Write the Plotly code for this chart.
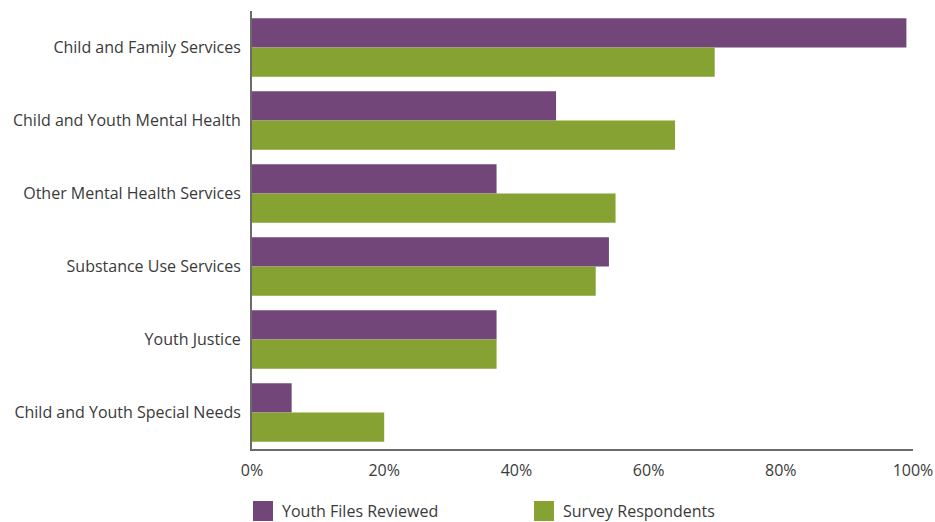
import plotly.graph_objects as go

categories = ["Child and Family Services", "Child and Youth Mental Health", "Other Mental Health Services",
              "Substance Use Services", "Youth Justice", "Child and Youth Special Needs"]
youth_files = [99, 46, 37, 54, 37, 6]
survey = [70, 64, 55, 52, 37, 20]
series_names = ["Youth Files Reviewed", "Survey Respondents"]
colors = ["#73467a", "#86a232"]
x_ticks = [0, 20, 40, 60, 80, 100]
x_ticklabels = ["0%", "20%", "40%", "60%", "80%", "100%"]

FONT = "Open Sans"
PW = 661.0
PH = 438.0

fig = go.Figure()
fig.add_trace(go.Bar(y=categories, x=youth_files, orientation="h", name=series_names[0],
                     marker=dict(color=colors[0], line=dict(width=0))))
fig.add_trace(go.Bar(y=categories, x=survey, orientation="h", name=series_names[1],
                     marker=dict(color=colors[1], line=dict(width=0))))

fig.update_layout(
    width=935, height=522,
    margin=dict(l=252, r=22, t=11, b=73),
    barmode="group", bargap=0.2, bargroupgap=0,
    plot_bgcolor="white", paper_bgcolor="white",
    showlegend=False,
    font=dict(family=FONT, size=16, color="#3a3a3a"),
    xaxis=dict(range=[0, 100], tickvals=x_ticks, ticktext=x_ticklabels, automargin=False,
               showgrid=False, zeroline=False, showline=True, linecolor="#6b6b6b", linewidth=2,
               ticks="", ticklabelstandoff=6, fixedrange=True),
    yaxis=dict(autorange="reversed", showgrid=False, zeroline=False, showline=True, automargin=False,
               linecolor="#6b6b6b", linewidth=2, ticks="", ticklabelstandoff=6),
)

legend_x = [1 / PW, 282 / PW]
for i, (name, c) in enumerate(zip(series_names, colors)):
    x0 = legend_x[i]
    fig.add_shape(type="rect", xref="paper", yref="paper",
                  x0=x0, x1=x0 + 20 / PW, y0=-52 / PH, y1=-72 / PH,
                  fillcolor=c, line=dict(width=0))
    fig.add_annotation(xref="paper", yref="paper", x=x0 + 27 / PW, y=-62 / PH,
                       text=name, showarrow=False, xanchor="left", yanchor="middle",
                       font=dict(family=FONT, size=16, color="#3a3a3a"))

fig.write_html("out.html")
